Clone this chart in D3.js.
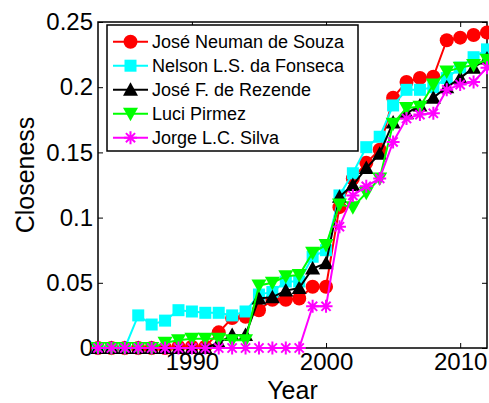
<!DOCTYPE html>
<html>
<head>
<meta charset="utf-8">
<script src="https://cdn.jsdelivr.net/npm/d3@7"></script>
<style>
body { margin: 0; background: #fff; }
svg { display: block; font-family: "Liberation Sans", Arial, sans-serif; }
.axis-label { font-size: 25px; fill: #000; }
.legend-text { font-size: 18px; fill: #000; }
</style>
</head>
<body>
<div class="chart"></div>
<script>
var width = 489,
	height = 403,
	plotLeft = 98,
	plotRight = 487,
	plotTop = 22,
	plotBottom = 348;

var years = d3.range(1983, 2013);

var names = ["José Neuman de Souza", "Nelson L.S. da Fonseca", "José F. de Rezende", "Luci Pirmez", "Jorge L.C. Silva"];

var souza = [0, 0, 0, 0, 0, 0, 0.001, 0.001, 0.001, 0.012, 0.023, 0.024, 0.029, 0.037, 0.037, 0.038, 0.047, 0.047,
	0.108, 0.130, 0.142, 0.152, 0.192, 0.204, 0.207, 0.208, 0.236, 0.238, 0.240, 0.242];
var fonseca = [0, 0, 0, 0.025, 0.018, 0.021, 0.029, 0.028, 0.027, 0.027, 0.025, 0.028, 0.041, 0.043, 0.051, 0.051, 0.070, 0.075,
	0.117, 0.134, 0.154, 0.162, 0.186, 0.198, 0.198, 0.200, 0.207, 0.215, 0.223, 0.229];
var rezende = [0, 0, 0, 0, 0, 0, 0, 0, 0, 0.004, 0.010, 0.010, 0.038, 0.039, 0.044, 0.046, 0.061, 0.065,
	0.116, 0.125, 0.138, 0.149, 0.173, 0.180, 0.186, 0.192, 0.200, 0.207, 0.215, 0.222];
var pirmez = [0, 0, 0, 0, 0, 0.004, 0.006, 0.007, 0.007, 0.007, 0.006, 0.006, 0.048, 0.050, 0.055, 0.056, 0.073, 0.079,
	0.110, 0.108, 0.119, 0.130, 0.172, 0.184, 0.185, 0.202, 0.212, 0.215, 0.217, 0.221];
var silva = [0, 0, 0, 0, 0, 0, 0, 0, 0, 0, 0, 0, 0, 0, 0, 0, 0.032, 0.032,
	0.093, 0.117, 0.124, 0.130, 0.158, 0.176, 0.179, 0.180, 0.198, 0.202, 0.204, 0.215];

var xTicks = [1990, 2000, 2010];
var yTicks = [0, 0.05, 0.1, 0.15, 0.2, 0.25];

var series = [
	{ name: names[0], values: souza, color: "#ff0000", marker: "circle" },
	{ name: names[1], values: fonseca, color: "#00ffff", marker: "square" },
	{ name: names[2], values: rezende, color: "#000000", marker: "triangle" },
	{ name: names[3], values: pirmez, color: "#00ff00", marker: "triangleDown" },
	{ name: names[4], values: silva, color: "#ff00ff", marker: "asterisk" }
];

var svg = d3.select("div.chart")
	.append("svg")
	.attr("width", width)
	.attr("height", height);

var x = d3.scaleLinear()
	.domain([1983, 2012])
	.range([plotLeft, plotRight]);

var y = d3.scaleLinear()
	.domain([0, 0.25])
	.range([plotBottom, plotTop]);

// axes, ticks pointing inwards
svg.append("g")
	.attr("transform", "translate(0," + plotBottom + ")")
	.call(d3.axisBottom(x).tickValues(xTicks).tickFormat(d3.format("d")).tickSizeInner(-5).tickSizeOuter(0).tickPadding(5))
	.call(function(g){ g.select(".domain").remove(); });

svg.append("g")
	.attr("transform", "translate(" + plotLeft + ",0)")
	.call(d3.axisLeft(y).tickValues(yTicks).tickFormat(function(d){ return String(+d.toFixed(2)); }).tickSizeInner(-5).tickSizeOuter(0).tickPadding(5))
	.call(function(g){ g.select(".domain").remove(); });

// matching ticks on top and right
svg.append("g")
	.attr("transform", "translate(0," + plotTop + ")")
	.call(d3.axisTop(x).tickValues(xTicks).tickFormat("").tickSizeInner(-5).tickSizeOuter(0))
	.call(function(g){ g.select(".domain").remove(); });

svg.append("g")
	.attr("transform", "translate(" + plotRight + ",0)")
	.call(d3.axisRight(y).tickValues(yTicks).tickFormat("").tickSizeInner(-5).tickSizeOuter(0))
	.call(function(g){ g.select(".domain").remove(); });

svg.selectAll(".tick line").attr("stroke", "#000").attr("stroke-width", 1);
svg.selectAll(".tick text")
	.attr("font-size", 24)
	.attr("font-family", "Liberation Sans, Arial, sans-serif")
	.attr("fill", "#000");

svg.append("rect")
	.attr("x", plotLeft)
	.attr("y", plotTop)
	.attr("width", plotRight - plotLeft)
	.attr("height", plotBottom - plotTop)
	.attr("fill", "none")
	.attr("stroke", "#000")
	.attr("stroke-width", 1.5);

svg.append("text")
	.attr("class", "axis-label")
	.attr("text-anchor", "middle")
	.attr("x", (plotLeft + plotRight) / 2)
	.attr("y", 399)
	.text("Year");

svg.append("text")
	.attr("class", "axis-label")
	.attr("text-anchor", "middle")
	.attr("transform", "translate(34,175) rotate(-90)")
	.text("Closeness");

function drawMarker(g, type, color){
	if (type == "circle"){
		g.append("circle").attr("r", 7).attr("fill", color);
	} else if (type == "square"){
		g.append("rect").attr("x", -6).attr("y", -6).attr("width", 12).attr("height", 12).attr("fill", color);
	} else if (type == "triangle"){
		g.append("path").attr("d", "M0,-7.5L7.5,6L-7.5,6Z").attr("fill", color);
	} else if (type == "triangleDown"){
		g.append("path").attr("d", "M0,7.5L7.5,-6L-7.5,-6Z").attr("fill", color);
	} else {
		var d = "";
		for (var k = 0; k < 4; k++){
			var a = k * Math.PI / 4;
			d += "M" + (-6.5 * Math.cos(a)) + "," + (-6.5 * Math.sin(a)) + "L" + (6.5 * Math.cos(a)) + "," + (6.5 * Math.sin(a));
		}
		g.append("path").attr("d", d).attr("stroke", color).attr("stroke-width", 2).attr("fill", "none");
	}
}

var line = d3.line()
	.x(function(d, i){ return x(years[i]); })
	.y(function(d){ return y(d); });

series.forEach(function(s){
	var grp = svg.append("g").attr("class", "series");
	grp.append("path")
		.datum(s.values)
		.attr("d", line)
		.attr("fill", "none")
		.attr("stroke", s.color)
		.attr("stroke-width", 2);
	s.values.forEach(function(v, i){
		var m = grp.append("g").attr("transform", "translate(" + x(years[i]) + "," + y(v) + ")");
		drawMarker(m, s.marker, s.color);
	});
});

// legend
var legend = svg.append("g").attr("transform", "translate(107,25)");
legend.append("rect")
	.attr("width", 251)
	.attr("height", 126)
	.attr("fill", "#fff")
	.attr("stroke", "#000")
	.attr("stroke-width", 1.5);

series.forEach(function(s, i){
	var row = legend.append("g").attr("transform", "translate(0," + (16.7 + i * 24) + ")");
	row.append("line")
		.attr("x1", 6).attr("x2", 41)
		.attr("stroke", s.color)
		.attr("stroke-width", 2);
	var m = row.append("g").attr("transform", "translate(23.5,0)");
	drawMarker(m, s.marker, s.color);
	row.append("text")
		.attr("class", "legend-text")
		.attr("x", 45)
		.attr("dy", "0.35em")
		.text(s.name);
});
</script>
</body>
</html>
